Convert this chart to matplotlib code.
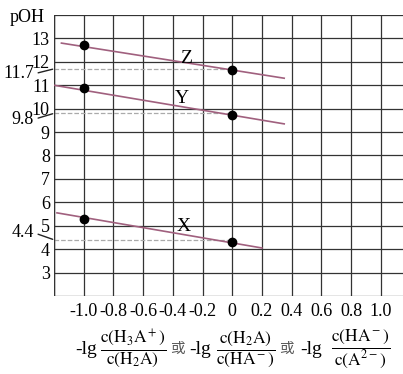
import matplotlib
matplotlib.use('Agg')
import matplotlib.pyplot as plt
import numpy as np

plt.rcParams['font.family'] = ['Liberation Serif', 'Noto Sans CJK SC']
plt.rcParams['mathtext.fontset'] = 'stix'
plt.rcParams['axes.unicode_minus'] = False

# data
pt_x = [-1.0, 0.0]
z_pts = [12.7, 11.65]
y_pts = [10.9, 9.75]
x_pts = [5.3, 4.3]

z_line_x = [-1.15, 0.35]
z_line = [12.8, 11.3]
y_line_x = [-1.2, 0.35]
y_line = [11.0, 9.35]
x_line_x = [-1.18, 0.2]
x_line = [5.55, 4.05]

ref_vals = [11.7, 9.8, 4.4]
ref_labels = ['11.7', '9.8', '4.4']

xticks = [-1.0, -0.8, -0.6, -0.4, -0.2, 0, 0.2, 0.4, 0.6, 0.8, 1.0]
xtick_labels = ['-1.0', '-0.8', '-0.6', '-0.4', '-0.2', '0', '0.2', '0.4', '0.6', '0.8', '1.0']
yticks = [3, 4, 5, 6, 7, 8, 9, 10, 11, 12, 13]

fracs = [r'$\dfrac{\mathrm{c(H_3A^+)}}{\mathrm{c(H_2A)}}$',
         r'$\dfrac{\mathrm{c(H_2A)}}{\mathrm{c(HA^-)}}$',
         r'$\dfrac{\mathrm{c(HA^-)}}{\mathrm{c(A^{2-})}}$']

fig = plt.figure(figsize=(4.03, 3.74), dpi=100)
ax = fig.add_axes([0.134, 0.2086, 0.866, 0.7513])

ax.set_xlim(-1.2, 1.15)
ax.set_ylim(2, 14)

# grid
for gx in np.arange(-1.2, 1.21, 0.2):
    ax.axvline(gx, color='#333333', lw=0.9, zorder=1)
for gy in range(2, 15):
    ax.axhline(gy, color='#333333', lw=0.9, zorder=1)

# reference dashed lines
for v in ref_vals:
    ax.plot([-1.2, 0], [v, v], ls='--', color='#aaaaaa', lw=0.9, zorder=2)

line_color = '#a0607e'
ax.plot(z_line_x, z_line, color=line_color, lw=1.2, zorder=3)
ax.plot(y_line_x, y_line, color=line_color, lw=1.2, zorder=3)
ax.plot(x_line_x, x_line, color=line_color, lw=1.2, zorder=3)

ax.plot(pt_x, z_pts, 'o', color='black', ms=6, zorder=4)
ax.plot(pt_x, y_pts, 'o', color='black', ms=6, zorder=4)
ax.plot(pt_x, x_pts, 'o', color='black', ms=6, zorder=4)

ax.text(-0.31, 12.15, 'Z', fontsize=14, ha='center', va='center')
ax.text(-0.34, 10.45, 'Y', fontsize=14, ha='center', va='center')
ax.text(-0.33, 4.98, 'X', fontsize=14, ha='center', va='center')

ax.set_xticks(xticks)
ax.set_xticklabels(xtick_labels, fontsize=13)
ax.set_yticks(yticks)
ax.set_yticklabels([str(t) for t in yticks], fontsize=13)
ax.tick_params(axis='x', length=0, pad=5)
ax.tick_params(axis='y', length=0, pad=3)

for s in ['top', 'right', 'bottom', 'left']:
    ax.spines[s].set_visible(False)
ax.axvline(-1.2, color='#333333', lw=1.0)

ax.annotate('pOH', xy=(0, 14), xycoords=('axes fraction', 'data'),
            xytext=(-9, -3), textcoords='offset pixels',
            ha='right', va='center', fontsize=13)

# break-style labels for the reference values
offsets = [(-20, -5), (-20, -6), (-20, 7)]
for v, lab, off in zip(ref_vals, ref_labels, offsets):
    ax.annotate(lab, xy=(0, v), xycoords=('axes fraction', 'data'),
                xytext=off, textcoords='offset pixels',
                ha='right', va='center', fontsize=13,
                arrowprops=dict(arrowstyle='-', lw=1.0, color='#222222',
                                shrinkA=1, shrinkB=1, relpos=(1, 0.5)))

# x label, pieces placed by pixel positions of the reference
W, H = 403.0, 374.0
fy = 1 - 349 / H
lg_right = [97, 211, 322]
frac_center = [133, 246, 361]
or_center = [177, 286]
for xr, xc, fr in zip(lg_right, frac_center, fracs):
    fig.text(xr / W, fy, '-lg', ha='right', va='center', fontsize=14)
    fig.text(xc / W, fy, fr, ha='center', va='center', fontsize=12.5)
for xc in or_center:
    fig.text(xc / W, fy, '或', ha='center', va='center', fontsize=10.5,
             family=['Noto Sans CJK SC'], color='#555555')

fig.savefig('out.png', dpi=100)
